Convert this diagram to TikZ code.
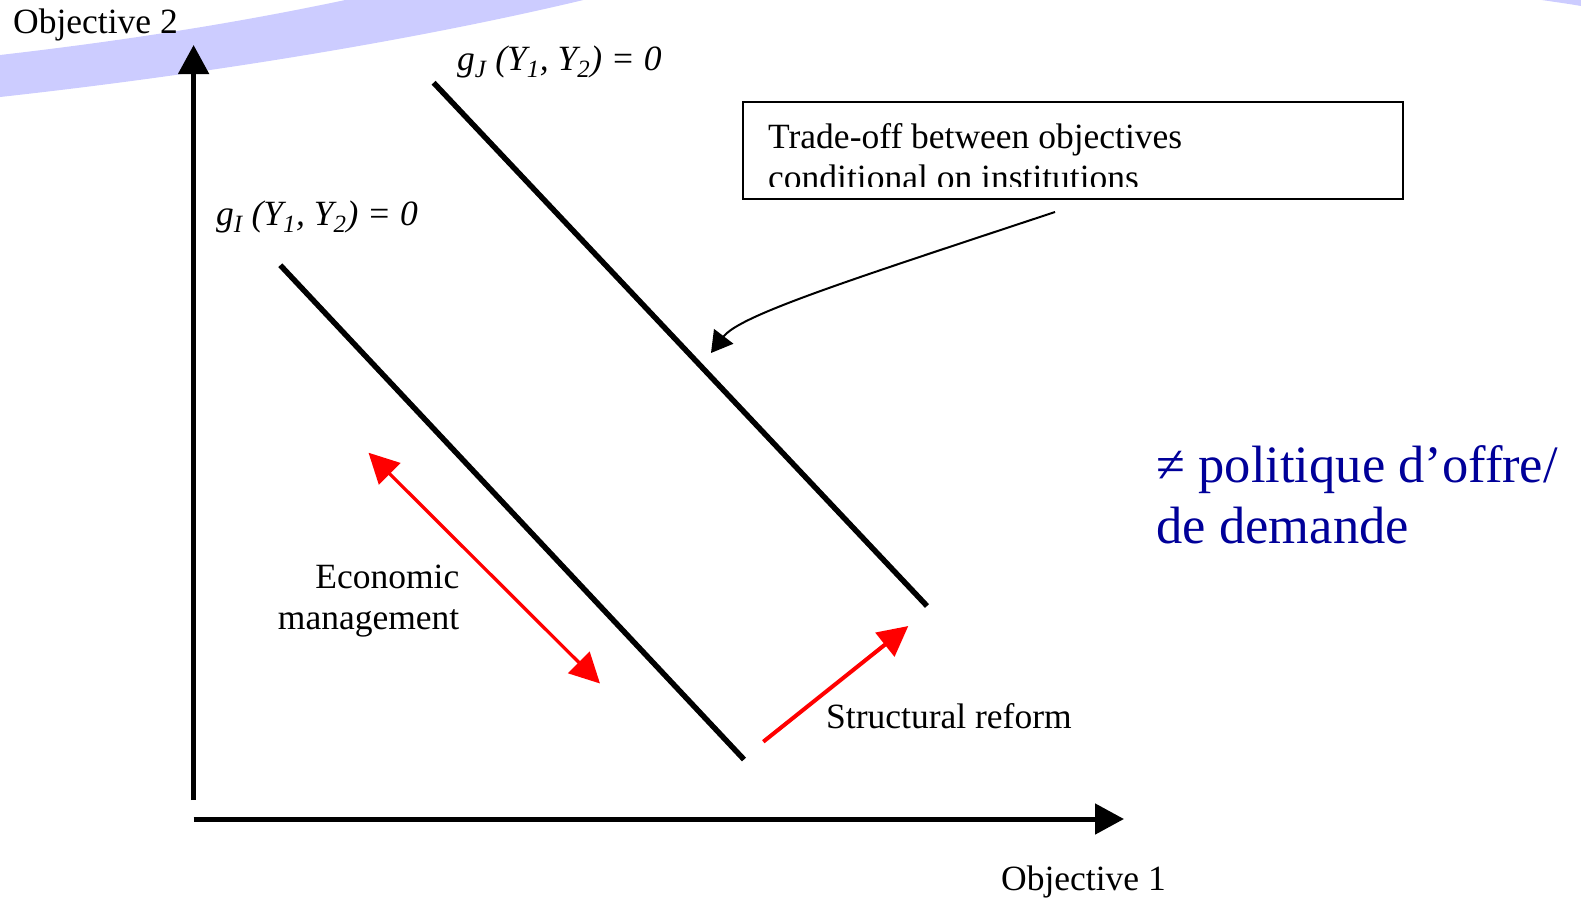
\documentclass[tikz,border=0pt]{standalone}
\usepackage{fontspec}
\setmainfont{Liberation Serif}
\usepackage{xcolor}
\usetikzlibrary{arrows.meta, positioning, calc}
\definecolor{swoosh}{RGB}{204,204,255}
\definecolor{frblue}{RGB}{0,0,153}

\begin{document}
\begin{tikzpicture}[
  x=1pt, y=-1pt,
  font=\fontsize{35.5}{41}\selectfont,
  lbl/.style={inner sep=0pt, anchor=base west},
  glbl/.style={lbl, font=\fontsize{35.5}{41}\selectfont\itshape},
  axis/.style={line width=5pt, -{Triangle[length=29pt, width=30pt]}},
  frontier/.style={line width=5.5pt},
  tradebox/.style={rectangle, draw=black, line width=2pt, inner sep=0pt,
                   minimum width=660pt, minimum height=96.6pt},
  pointer/.style={line width=2pt, -{Triangle[length=21pt, width=24pt]}},
  mgmt/.style={red, line width=3.3pt,
               {Triangle[length=30pt, width=30pt]}-{Triangle[length=30pt, width=30pt]}},
  reform/.style={red, line width=4pt, -{Triangle[length=30pt, width=30pt]}},
]

\useasboundingbox (0,0) rectangle (1581,897);

\begin{scope}
  \clip (0,0) rectangle (1581,897);
  \fill[swoosh] (0,55) .. controls (130,40) and (260,20) .. (400,-12)
                -- (600,-4) .. controls (420,40) and (200,75) .. (0,97) -- cycle;
  \fill[swoosh] (1535,-1) .. controls (1555,2) and (1570,4) .. (1581,6)
                -- (1581,-5) -- cycle;
\end{scope}

\coordinate (ybot)   at (193.6,800);
\coordinate (ytip)   at (193.6,45);
\coordinate (xstart) at (193.6,819);
\coordinate (xtip)   at (1124,819);

\coordinate (gJtop) at (433.6,82.7);
\coordinate (gJbot) at (927,606);
\coordinate (gItop) at (280.3,265.2);
\coordinate (gIbot) at (744,759.5);

\coordinate (emtop) at (368.5,452.7);
\coordinate (embot) at (600,683.5);
\coordinate (srfrom) at (763.3,741.7);
\coordinate (srto)   at (908.3,626);

\draw[axis] (ybot) -- (ytip);
\draw[axis] (xstart) -- (xtip);

\node[lbl] (obj2) at (13,33.5) {Objective 2};
\node[lbl] (obj1) at (1001,890) {Objective 1};

\draw[frontier] (gJtop) -- (gJbot);
\draw[frontier] (gItop) -- (gIbot);

\node[glbl] (gJ) at (457,70)  {g\textsubscript{J} (Y\textsubscript{1}, Y\textsubscript{2}) = 0};
\node[glbl] (gI) at (216,225) {g\textsubscript{I} (Y\textsubscript{1}, Y\textsubscript{2}) = 0};

\node[tradebox] (tradeoff) at (1073,150.3) {};
\begin{scope}
  \clip (743,102) rectangle (1403,186);
  \node[lbl, align=left] (tradetxt) at (768,189)
       {Trade-off between objectives\\conditional on institutions};
\end{scope}

\coordinate (ptfrom) at (1055,212);
\coordinate (ptto)   at (711,353);
\draw[pointer] (ptfrom) .. controls (850,280) and (740,315) .. (ptto);

\draw[mgmt] (emtop) -- (embot);
\node[lbl, align=right, anchor=base east] (econ) at (459.5,629)
     {Economic\\management};

\draw[reform] (srfrom) -- (srto);
\node[lbl] (struct) at (826,728.5) {Structural reform};

\node[lbl, frblue, align=left, font=\fontsize{52.5}{61}\selectfont]
     (politique) at (1156.5,543) {≠ politique d’offre/\\de demande};

\end{tikzpicture}
\end{document}
